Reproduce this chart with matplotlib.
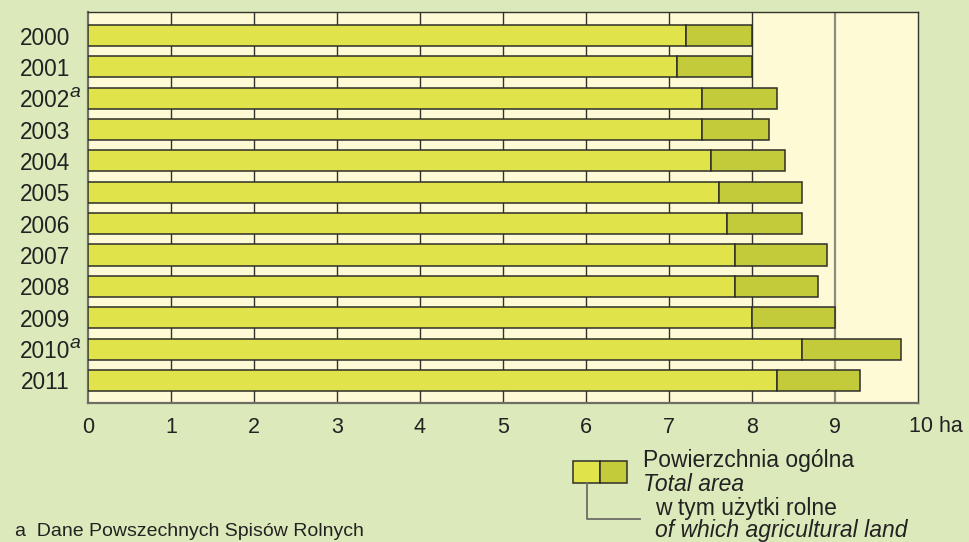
import matplotlib
matplotlib.use("Agg")
import matplotlib.pyplot as plt
from matplotlib.lines import Line2D
from matplotlib.patches import Rectangle

years = ["2000", "2001", "2002", "2003", "2004", "2005", "2006", "2007", "2008", "2009", "2010", "2011"]
footnoted = ["2002", "2010"]
total_area = [8.0, 8.0, 8.3, 8.2, 8.4, 8.6, 8.6, 8.9, 8.8, 9.0, 9.8, 9.3]
agricultural = [7.2, 7.1, 7.4, 7.4, 7.5, 7.6, 7.7, 7.8, 7.8, 8.0, 8.6, 8.3]
xticks = [0, 1, 2, 3, 4, 5, 6, 7, 8, 9, 10]

FONT = "Liberation Sans"
BG = "#dce9bb"
PLOT_BG = "#fefad6"
LIGHT = "#e1e34b"
DARK = "#c3cb3a"
EDGE = "#2e2e2a"
TXT = "#222222"

fig = plt.figure(figsize=(9.69, 5.42), dpi=100, facecolor=BG)
ax = fig.add_axes([88/969, 1-403/542, (918-88)/969, (403-12)/542])
ax.set_facecolor(PLOT_BG)

pos = list(range(len(years)))
diff = [t - a for t, a in zip(total_area, agricultural)]
ax.barh(pos, agricultural, height=0.67, color=LIGHT, edgecolor=EDGE, linewidth=1.1, zorder=3)
ax.barh(pos, diff, left=agricultural, height=0.67, color=DARK, edgecolor=EDGE, linewidth=1.1, zorder=3)

for xv in xticks[1:-1]:
    if xv == 9:
        ax.axvline(xv, color="#8c8c7c", lw=1.6, zorder=1)
    else:
        ax.axvline(xv, color="#33332e", lw=1.0, zorder=1)

ax.set_xlim(0, 10)
ax.set_ylim(11.72, -0.75)
ax.set_yticks(pos)
ax.set_yticklabels(years, fontsize=16.3, fontfamily=FONT, color=TXT)
ax.set_xticks(xticks)
ax.set_xticklabels([str(v) for v in xticks[:-1]] + [""], fontsize=15.5, fontfamily=FONT, color=TXT)
ax.tick_params(axis="y", length=0, pad=13)
ax.tick_params(axis="x", length=0, pad=10)
for s in ["left", "bottom"]:
    ax.spines[s].set_color("#6e6e66")
    ax.spines[s].set_linewidth(1.6)
for s in ["top", "right"]:
    ax.spines[s].set_color("#33332e")
    ax.spines[s].set_linewidth(1.0)

# "10 ha" label
ax.annotate("10 ha", xy=(10, 0), xycoords=("data", "axes fraction"), xytext=(-9, -13),
            textcoords="offset pixels", ha="left", va="top", fontsize=15.5, fontfamily=FONT, color=TXT)

# superscript footnote markers
for y in footnoted:
    i = years.index(y)
    ax.annotate("a", xy=(0, i), xycoords=("axes fraction", "data"), xytext=(-18, 1),
                textcoords="offset pixels", ha="left", va="baseline", fontsize=14,
                fontfamily=FONT, fontstyle="italic", color=TXT)

# legend
W, H = 969, 542
def fx(px): return px / W
def fy(py): return 1 - py / H
fig.patches.append(Rectangle((fx(573), fy(483)), fx(600) - fx(573), fy(461) - fy(483),
                             transform=fig.transFigure, facecolor=LIGHT, edgecolor=EDGE, lw=1.1))
fig.patches.append(Rectangle((fx(600), fy(483)), fx(627) - fx(600), fy(461) - fy(483),
                             transform=fig.transFigure, facecolor=DARK, edgecolor=EDGE, lw=1.1))
fig.lines.append(Line2D([fx(587), fx(587), fx(640)], [fy(483), fy(519), fy(519)],
                        transform=fig.transFigure, color="#6e6e66", lw=1.3))
fig.text(fx(643), fy(467), "Powierzchnia ogólna", fontsize=16.5, fontfamily=FONT, color=TXT, va="baseline")
fig.text(fx(643), fy(491), "Total area", fontsize=16.5, fontfamily=FONT, fontstyle="italic", color=TXT, va="baseline")
fig.text(fx(655), fy(515), "w tym użytki rolne", fontsize=16.5, fontfamily=FONT, color=TXT, va="baseline")
fig.text(fx(655), fy(537), "of which agricultural land", fontsize=16.5, fontfamily=FONT, fontstyle="italic", color=TXT, va="baseline")

fig.text(fx(15), fy(523), "a  Dane Powszechnych Spisów Rolnych", fontsize=14, fontfamily=FONT,
         color=TXT, va="top")

fig.savefig("out.png", dpi=100, facecolor=BG)
